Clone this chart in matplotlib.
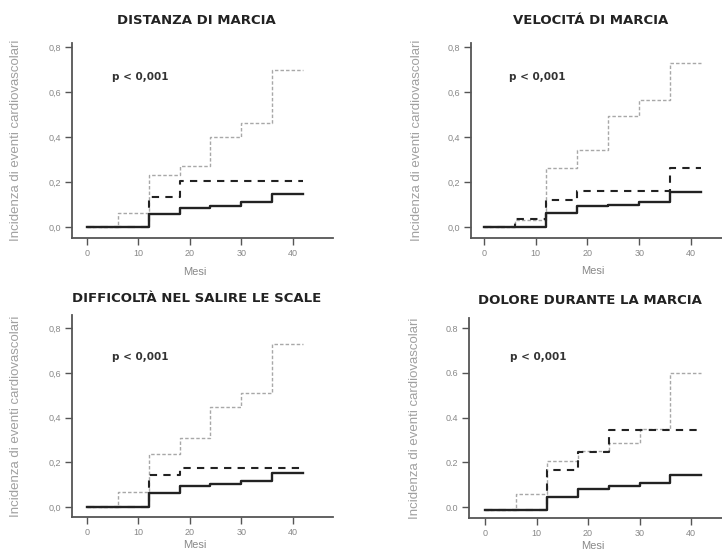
import matplotlib
matplotlib.use("Agg")
import matplotlib.pyplot as plt

plt.rcParams['font.family'] = ['Liberation Sans', 'DejaVu Sans']

# ---------------------------- data ----------------------------------
titles = ["DISTANZA DI MARCIA", "VELOCITÁ DI MARCIA",
          "DIFFICOLTÀ NEL SALIRE LE SCALE", "DOLORE DURANTE LA MARCIA"]
ylabels = ["Incidenza di eventi cardiovascolari"] * 4
mesi = [0, 6, 12, 18, 24, 30, 36, 42]
xticks = [0, 10, 20, 30, 40]
yticks = [0.0, 0.2, 0.4, 0.6, 0.8]
ytick_labels = [["0,0", "0,2", "0,4", "0,6", "0,8"]] * 3 + [["0.0", "0.2", "0.4", "0.6", "0.8"]]

# grey = worst group, dashed = intermediate, solid = best
grigio = [
    [0.0, 0.064, 0.23, 0.27, 0.40, 0.465, 0.70, 0.70],
    [0.0, 0.03, 0.265, 0.345, 0.495, 0.565, 0.73, 0.73],
    [0.0, 0.068, 0.24, 0.31, 0.45, 0.51, 0.73, 0.73],
    [-0.011, 0.06, 0.205, 0.25, 0.285, 0.35, 0.60, 0.60],
]
tratteggio = [
    [0.0, 0.0, 0.135, 0.205, 0.205, 0.205, 0.205, 0.205],
    [0.0, 0.035, 0.12, 0.16, 0.16, 0.16, 0.265, 0.265],
    [0.0, 0.0, 0.143, 0.177, 0.177, 0.177, 0.177, 0.177],
    [-0.011, -0.011, 0.165, 0.245, 0.344, 0.344, 0.344, 0.344],
]
continua = [
    [0.0, 0.0, 0.056, 0.084, 0.095, 0.11, 0.145, 0.145],
    [0.0, 0.0, 0.061, 0.094, 0.10, 0.11, 0.157, 0.157],
    [0.0, 0.0, 0.061, 0.095, 0.103, 0.116, 0.155, 0.155],
    [-0.011, -0.011, 0.046, 0.083, 0.093, 0.106, 0.143, 0.143],
]
p_text = "p < 0,001"

# ---------------------------- layout --------------------------------
positions = [
    [0.0997, 0.5673, 0.3615, 0.3545],
    [0.6524, 0.5673, 0.3476, 0.3545],
    [0.0997, 0.0605, 0.3615, 0.3667],
    [0.6496, 0.0576, 0.3504, 0.3642],
]
xlims = [(-2.9, 47.8), (-2.5, 46.0), (-2.9, 47.8), (-3.1, 46.0)]
ylims = [(-0.049, 0.82), (-0.049, 0.82), (-0.043, 0.86), (-0.05, 0.845)]
title_y = [20, 20, 298, 300]
xlabel_y = [-0.15, -0.145, -0.115, -0.115]

fig = plt.figure(figsize=(7.22, 5.5), dpi=100)

for i in range(4):
    ax = fig.add_axes(positions[i])
    ax.step(mesi, grigio[i], where='post', color='#a8a8a8', lw=1.0,
            linestyle=(0, (2.5, 1.5)))
    ax.step(mesi, tratteggio[i], where='post', color='#222222', lw=1.5,
            linestyle=(0, (3.5, 3)))
    ax.step(mesi, continua[i], where='post', color='#222222', lw=1.7)

    x0, x1 = xlims[i]
    ax.set_xlim(x0, x1)
    ax.set_ylim(*ylims[i])
    ax.set_xticks(xticks)
    ax.set_xticklabels([str(t) for t in xticks])
    ax.set_yticks(yticks)
    ax.set_yticklabels(ytick_labels[i])
    ax.tick_params(direction='out', length=5, width=1, colors='#555555',
                   labelsize=6.5, labelcolor='#888888', pad=3)
    for s in ['top', 'right']:
        ax.spines[s].set_visible(False)
    for s in ['left', 'bottom']:
        ax.spines[s].set_color('#555555')
        ax.spines[s].set_linewidth(1.3)

    ax.set_xlabel("Mesi", fontsize=8, color='#888888')
    ax.xaxis.set_label_coords((21 - x0) / (x1 - x0), xlabel_y[i])
    ax.set_ylabel(ylabels[i], fontsize=9.5, color='#a0a0a0')
    ax.yaxis.set_label_coords(-0.19, 0.5)
    ax.text(4.8, 0.67, p_text, fontsize=7.5, fontweight='bold', color='#333333',
            va='center', family='DejaVu Sans')

    # title centred over the axes
    pos = positions[i]
    fig.text(pos[0] + pos[2] / 2 - 0.008, 1 - title_y[i] / 550, titles[i],
             ha='center', va='center', fontsize=9.5, fontweight='bold',
             color='#222222', family='DejaVu Sans')

fig.savefig("out.png", dpi=100)
